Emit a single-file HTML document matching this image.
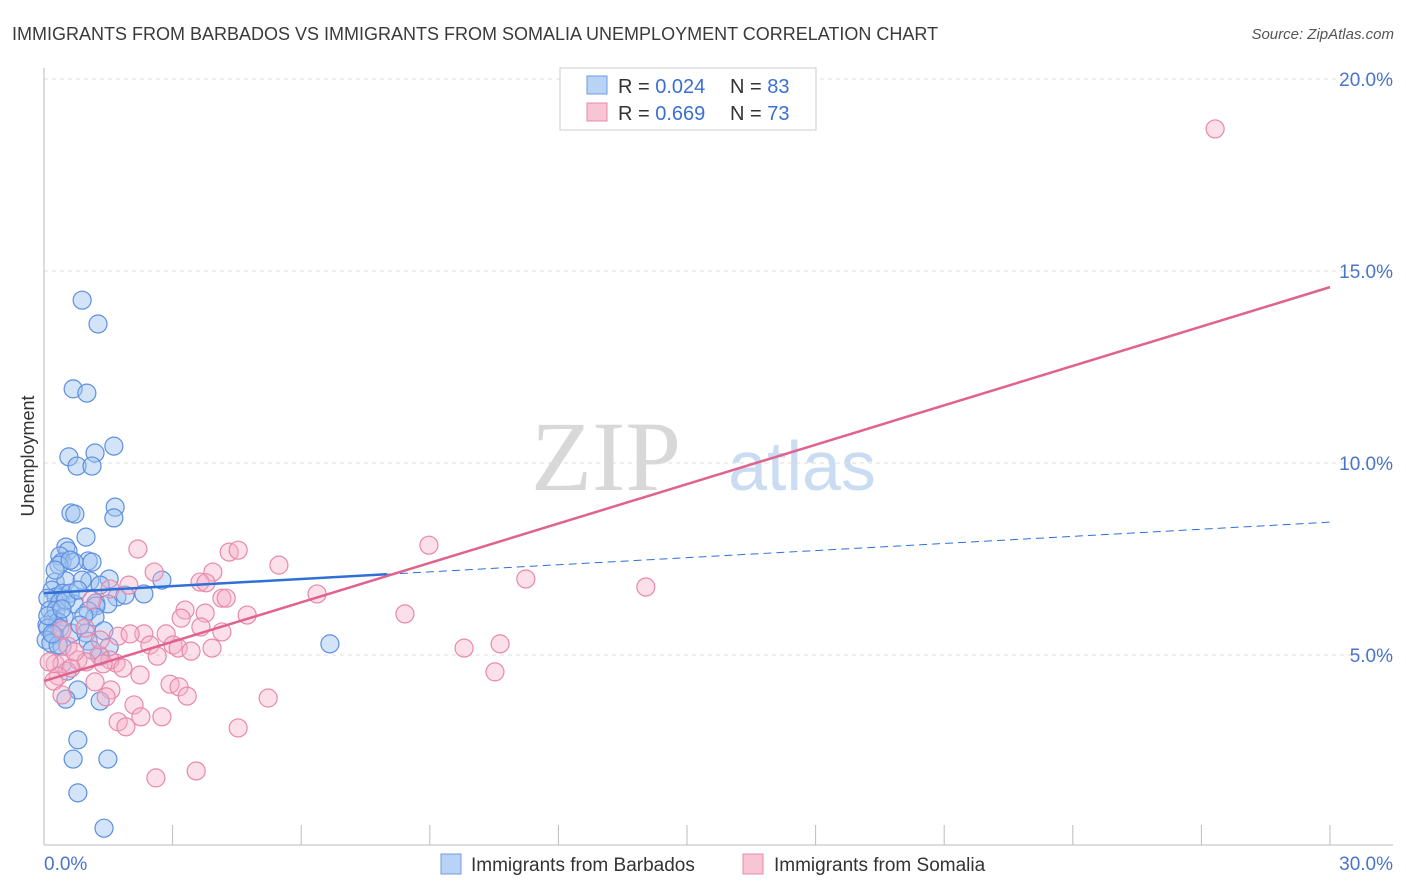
<!DOCTYPE html>
<html><head><meta charset="utf-8"><style>
body{margin:0;background:#fff;font-family:"Liberation Sans",sans-serif;}
svg{display:block}
</style></head><body>
<svg id="chart" width="1406" height="892">
<text x="12" y="40" font-size="18" fill="#3a3a3a">IMMIGRANTS FROM BARBADOS VS IMMIGRANTS FROM SOMALIA UNEMPLOYMENT CORRELATION CHART</text>
<text x="1394" y="39" font-size="15" fill="#555" text-anchor="end" font-style="italic">Source: ZipAtlas.com</text>
<text x="606" y="490" font-size="100" fill="#d8d8d8" font-family="Liberation Serif,serif" text-anchor="middle">ZIP</text>
<text x="802" y="490" font-size="70" fill="#c9dcf2" text-anchor="middle">atlas</text>
<text transform="translate(34,456) rotate(-90)" font-size="18" fill="#333" text-anchor="middle">Unemployment</text>
<g id="grid"></g><g id="pts"></g><g id="lines"></g>
<g>
<rect x="560" y="68" width="256" height="62" fill="#fff" stroke="#ccc"/>
<rect x="587" y="76" width="20" height="18" fill="#b8d3f5" stroke="#6b9be0"/>
<rect x="587" y="103" width="20" height="18" fill="#f8c5d5" stroke="#e889a8"/>
<text x="618" y="93" font-size="20" fill="#333">R = <tspan fill="#3b6fd4">0.024</tspan><tspan x="730">N = </tspan><tspan fill="#3b6fd4">83</tspan></text>
<text x="618" y="120" font-size="20" fill="#333">R = <tspan fill="#3b6fd4">0.669</tspan><tspan x="730">N = </tspan><tspan fill="#3b6fd4">73</tspan></text>
</g>
<g>
<rect x="441" y="854" width="20" height="20" fill="#b8d3f5" stroke="#6b9be0"/>
<text x="471" y="871" font-size="19" fill="#333">Immigrants from Barbados</text>
<rect x="743" y="854" width="20" height="20" fill="#f8c5d5" stroke="#e889a8"/>
<text x="774" y="871" font-size="19" fill="#333">Immigrants from Somalia</text>
</g>
</svg>
<script>
const yTicks=[5,10,15,20];
const yTickLabels=["5.0%","10.0%","15.0%","20.0%"];
const xTickLabels=["0.0%","30.0%"];
const barbadosX=[0.89,1.26,0.68,1.00,0.58,1.19,1.63,0.77,1.12,0.63,0.72,1.66,1.63,0.98,0.51,0.56,0.37,1.03,0.42,0.70,0.35,1.12,0.26,0.51,1.07,1.52,2.75,0.89,0.19,0.28,0.44,0.61,0.09,0.37,0.70,1.21,1.70,1.89,2.33,1.49,1.21,0.14,0.28,1.03,1.19,0.21,0.47,0.93,0.07,0.33,0.09,0.37,0.65,0.98,0.23,1.40,0.05,0.16,0.42,1.03,6.67,1.52,1.31,0.54,0.79,0.51,1.31,0.79,0.68,1.49,0.79,1.40,0.33,0.19,0.51,0.84,0.26,0.79,0.09,0.42,1.12,0.61,1.31];
const barbadosY=[14.24,13.62,11.93,11.82,10.16,10.26,10.44,9.92,9.92,8.70,8.67,8.85,8.57,8.07,7.81,7.71,7.58,7.45,7.42,7.42,7.34,7.42,6.90,6.93,6.93,6.98,6.95,6.95,6.69,6.51,6.61,6.61,6.48,6.38,6.33,6.35,6.51,6.56,6.59,6.33,6.28,6.17,6.17,6.15,5.99,5.94,5.99,6.02,5.78,5.86,5.70,5.70,5.57,5.57,5.52,5.63,5.39,5.31,5.23,5.36,5.29,5.21,4.97,4.58,4.09,3.85,3.80,2.79,2.29,2.29,1.41,0.49,5.26,5.55,6.43,5.78,7.21,6.69,6.02,6.20,5.13,7.47,6.82];
const somaliaX=[27.32,2.19,4.32,4.53,5.48,2.57,3.94,8.98,11.24,14.04,3.64,3.78,1.98,1.54,6.37,4.15,4.25,1.12,3.29,3.76,4.74,8.42,3.20,3.66,4.15,2.33,2.85,1.73,2.01,2.47,3.01,3.13,3.92,3.43,9.80,10.64,2.64,1.28,1.68,1.54,0.79,1.84,0.26,0.42,0.98,1.38,0.63,0.33,0.23,1.19,2.94,3.15,1.56,3.34,1.45,5.23,2.10,0.42,1.73,2.75,2.26,1.91,4.53,10.52,2.61,3.55,0.12,0.56,0.72,0.42,1.31,0.96,2.24];
const somaliaY=[18.70,7.76,7.68,7.73,7.34,7.16,7.16,7.86,6.98,6.77,6.90,6.88,6.82,6.72,6.59,6.48,6.48,6.43,6.17,6.09,6.04,6.07,5.96,5.73,5.60,5.55,5.55,5.49,5.55,5.26,5.26,5.18,5.18,5.10,5.18,5.29,4.97,5.00,4.79,4.87,4.87,4.66,4.77,4.77,4.82,4.77,4.66,4.45,4.32,4.30,4.24,4.17,4.09,3.93,3.91,3.88,3.70,3.96,3.26,3.39,3.39,3.13,3.10,4.56,1.80,1.98,4.82,5.23,5.08,5.65,5.39,5.70,4.48];
const barbadosTrend=[6.61,8.46];
const somaliaTrend=[4.32,14.58];
const X0=44,X1=1330,Y0=847,YP=38.4;
const sx=v=>X0+v*(X1-X0)/30, sy=v=>Y0-v*YP;
const NS="http://www.w3.org/2000/svg";
function mk(tag,attrs,parent){const e=document.createElementNS(NS,tag);for(const k in attrs)e.setAttribute(k,attrs[k]);parent.appendChild(e);return e;}
const grid=document.getElementById('grid');
yTicks.forEach((t,i)=>{
 const l=mk('line',{x1:44,x2:1393,y1:sy(t),y2:sy(t),stroke:'#ddd','stroke-dasharray':'4,4'},grid);
 
 
 const tx=mk('text',{x:1393,y:sy(t)+7,'font-size':19,fill:'#4a74c9','text-anchor':'end'},grid);
 tx.textContent=yTickLabels[i];
 
 
});
const ax=mk('line',{x1:44,x2:44,y1:68,y2:845,stroke:'#bbb'},grid);


const bx=mk('line',{x1:44,x2:1393,y1:845,y2:845,stroke:'#bbb'},grid);


for(let i=1;i<=10;i++){
 const t=mk('line',{x1:sx(i*3),x2:sx(i*3),y1:825,y2:845,stroke:'#bbb'},grid);
 
 
}
[[0,'start',44],[30,'end',1393]].forEach((d,i)=>{
 const tx=mk('text',{x:d[2],y:870,'font-size':19,fill:'#4a74c9','text-anchor':d[1]},grid);
 tx.textContent=xTickLabels[i];
 
 
});
const pts=document.getElementById('pts');
barbadosX.forEach((x,i)=>{
 const c=mk('circle',{cx:sx(x),cy:sy(barbadosY[i]),r:9,fill:'rgba(160,195,240,0.45)',stroke:'#5b8fe0','stroke-width':1.2},pts);
 
 
});
somaliaX.forEach((x,i)=>{
 const c=mk('circle',{cx:sx(x),cy:sy(somaliaY[i]),r:9,fill:'rgba(245,175,200,0.4)',stroke:'#e889a8','stroke-width':1.2},pts);
 
 
});
const lines=document.getElementById('lines');
const bAt=x=>barbadosTrend[0]+(barbadosTrend[1]-barbadosTrend[0])*x/30;
const l1=mk('line',{x1:sx(0),y1:sy(bAt(0)),x2:sx(8),y2:sy(bAt(8)),stroke:'#2f6fd6','stroke-width':2.5},lines);


const l2=mk('line',{x1:sx(8),y1:sy(bAt(8)),x2:sx(30),y2:sy(bAt(30)),stroke:'#2f6fd6','stroke-width':1,'stroke-dasharray':'8,5'},lines);


const l3=mk('line',{x1:sx(0),y1:sy(somaliaTrend[0]),x2:sx(30),y2:sy(somaliaTrend[1]),stroke:'#e0628f','stroke-width':2.5},lines);


</script>
</body></html>
